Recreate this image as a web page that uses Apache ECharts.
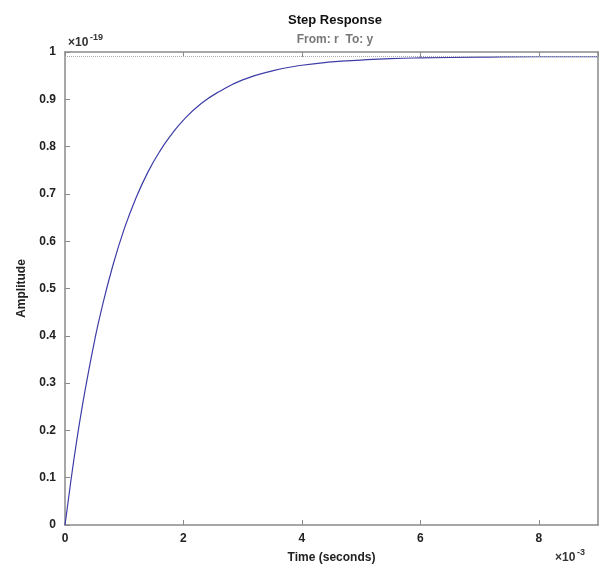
<!DOCTYPE html>
<html>
<head>
<meta charset="utf-8">
<script src="https://cdn.jsdelivr.net/npm/echarts@6/dist/echarts.min.js"></script>
<style>
html,body{margin:0;padding:0;background:#fff;}
#chart{width:605px;height:572px;}
</style>
</head>
<body>
<div id="chart"></div>
<script>
// Time in units of 1e-3 s, amplitude in units of 1e-19
var timeValues = [0, 0.1, 0.2, 0.3, 0.4, 0.5, 0.6, 0.8, 1.0, 1.2, 1.4, 1.6, 1.8, 2.0, 2.3, 2.6, 3.0, 3.5, 4.0, 4.5, 5.0, 5.5, 6.0, 7.0, 8.0, 9.0];
var amplitudeValues = [0, 0.094, 0.18, 0.257, 0.326, 0.39, 0.447, 0.545, 0.626, 0.692, 0.746, 0.79, 0.826, 0.856, 0.891, 0.916, 0.941, 0.96, 0.972, 0.979, 0.983, 0.986, 0.9875, 0.989, 0.99, 0.99];
var steadyState = 0.99;
var xTicks = [0, 2, 4, 6, 8];
var yTicks = [0, 0.1, 0.2, 0.3, 0.4, 0.5, 0.6, 0.7, 0.8, 0.9, 1];

var seriesData = timeValues.map(function (t, i) { return [t, amplitudeValues[i]]; });

var font = 'Liberation Sans, Arial, sans-serif';
var axisGray = '#8a8a8a';
var labelStyle = { color: '#222', fontFamily: font, fontWeight: 'bold', fontSize: 12 };

var chart = echarts.init(document.getElementById('chart'), null, { renderer: 'canvas' });
chart.setOption({
  animation: false,
  backgroundColor: '#fff',
  title: [
    { text: 'Step Response', left: 330, top: 9, textAlign: 'center',
      textStyle: { fontFamily: font, fontWeight: 'bold', fontSize: 13, color: '#111' } },
    { text: 'From: r  To: y', left: 330, top: 29, textAlign: 'center',
      textStyle: { fontFamily: font, fontWeight: 'bold', fontSize: 12, color: '#777' } }
  ],
  grid: { left: 65, right: 7, top: 52, bottom: 47 },
  xAxis: [
    { type: 'value', min: 0, max: 9, interval: 2,
      name: 'Time (seconds)', nameLocation: 'middle', nameGap: 27,
      nameTextStyle: { fontFamily: font, fontWeight: 'bold', fontSize: 12, color: '#222' },
      axisLine: { show: true, onZero: false, lineStyle: { color: axisGray, width: 1.5 } },
      axisTick: { show: true, inside: true, length: 5, lineStyle: { color: axisGray } },
      axisLabel: Object.assign({ showMaxLabel: false, margin: 8,
        formatter: function (v) { return xTicks.indexOf(v) >= 0 ? String(v) : ''; } }, labelStyle),
      splitLine: { show: false } },
    { type: 'value', min: 0, max: 9, interval: 2, position: 'top',
      axisLine: { show: true, onZero: false, lineStyle: { color: axisGray, width: 1.5 } },
      axisTick: { show: true, inside: true, length: 5, lineStyle: { color: axisGray } },
      axisLabel: { show: false }, splitLine: { show: false } }
  ],
  yAxis: [
    { type: 'value', min: 0, max: 1, interval: 0.1,
      name: 'Amplitude', nameLocation: 'middle', nameGap: 37, nameRotate: 90,
      nameTextStyle: { fontFamily: font, fontWeight: 'bold', fontSize: 12, color: '#222' },
      axisLine: { show: true, onZero: false, lineStyle: { color: axisGray, width: 1.5 } },
      axisTick: { show: true, inside: true, length: 5, lineStyle: { color: axisGray } },
      axisLabel: Object.assign({ margin: 9,
        formatter: function (v) {
          var r = Math.round(v * 10) / 10;
          if (r === 0) return '0';
          if (r === 1) return '1';
          return r.toFixed(1);
        } }, labelStyle),
      splitLine: { show: false } },
    { type: 'value', min: 0, max: 1, interval: 0.1, position: 'right',
      axisLine: { show: true, onZero: false, lineStyle: { color: axisGray, width: 1.5 } },
      axisTick: { show: false },
      axisLabel: { show: false }, splitLine: { show: false } }
  ],
  graphic: [
    { type: 'text', left: 68, top: 37,
      style: { text: '×10', fontFamily: font, fontWeight: 'bold', fontSize: 12, fill: '#333' } },
    { type: 'text', left: 90, top: 33,
      style: { text: '-19', fontFamily: font, fontWeight: 'bold', fontSize: 9, fill: '#333' } },
    { type: 'text', left: 555, top: 552,
      style: { text: '×10', fontFamily: font, fontWeight: 'bold', fontSize: 12, fill: '#333' } },
    { type: 'text', left: 577, top: 548,
      style: { text: '-3', fontFamily: font, fontWeight: 'bold', fontSize: 9, fill: '#333' } }
  ],
  series: [
    { type: 'line', data: seriesData, smooth: true, showSymbol: false,
      lineStyle: { color: '#3d3da8', width: 1.2 },
      markLine: { silent: true, symbol: 'none', label: { show: false },
        lineStyle: { color: '#aaa', type: 'dotted', width: 1 },
        data: [{ yAxis: steadyState }] } }
  ]
});
</script>
</body>
</html>
